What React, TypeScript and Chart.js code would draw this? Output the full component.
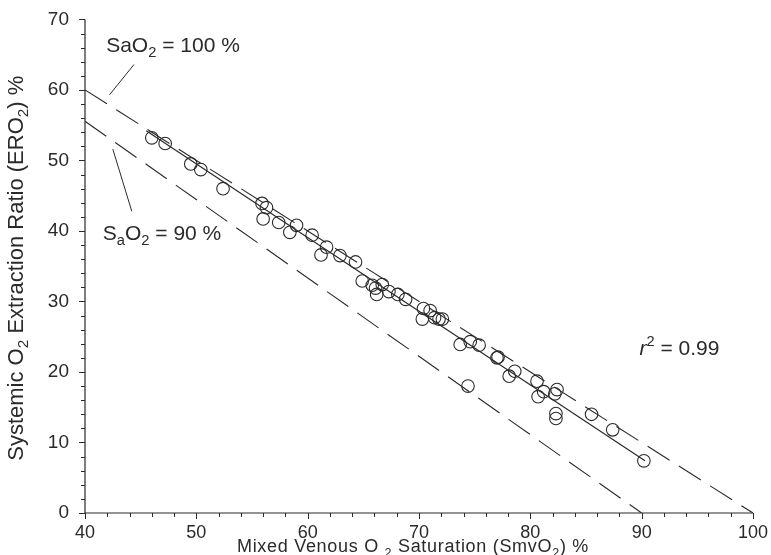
import React, { useEffect, useRef } from 'react';
import { Chart, registerables } from 'chart.js';
Chart.register(...registerables);

const svo2 = [46.0, 47.2, 49.5, 50.4, 52.4, 55.9, 56.3, 56.0, 57.4, 58.4, 59.0, 60.4, 61.2, 61.7, 62.9, 64.3, 64.9, 65.8, 66.2, 66.1, 66.7, 67.3, 68.1, 68.8, 70.3, 70.4, 71.0, 71.4, 71.8, 72.1, 73.7, 74.4, 74.6, 75.4, 77.0, 77.1, 78.1, 78.6, 80.6, 80.7, 81.2, 82.2, 82.4, 82.3, 82.3, 85.5, 87.4, 90.2];
const ero2 = [53.2, 52.4, 49.5, 48.7, 46.0, 43.9, 43.3, 41.7, 41.2, 39.8, 40.8, 39.4, 36.6, 37.7, 36.5, 35.6, 32.9, 32.3, 31.0, 31.9, 32.4, 31.4, 31.0, 30.3, 27.5, 29.0, 28.7, 27.7, 27.5, 27.5, 23.9, 18.0, 24.3, 23.8, 22.0, 22.1, 19.4, 20.1, 18.7, 16.5, 17.2, 16.9, 17.5, 14.1, 13.4, 14.0, 11.8, 7.4];

const fitX = [45.5, 90.3];
const fitY = [54.2, 7.4];
const sat100X = [40, 100];
const sat100Y = [60, 0];
const sat90X = [40, 90];
const sat90Y = [55.56, 0];

const xMin = 40, xMax = 100, xMajor = 10, xMinor = 2;
const yMin = 0, yMax = 70, yMajor = 10, yMinor = 2;

const INK = '#2a2a2a';
const FONT = '"Liberation Sans", Arial, sans-serif';

type Part = { t: string; sub?: boolean; sup?: boolean; italic?: boolean };

function richWidth(ctx: CanvasRenderingContext2D, parts: Part[], size: number) {
  let w = 0;
  for (const p of parts) {
    const s = p.sub || p.sup ? size * 0.7 : size;
    ctx.font = `${p.italic ? 'italic ' : ''}${s}px ${FONT}`;
    w += ctx.measureText(p.t).width;
  }
  return w;
}

function drawRich(ctx: CanvasRenderingContext2D, parts: Part[], x: number, y: number, size: number, align: 'left' | 'center' = 'left', spacing = 0) {
  ctx.save();
  ctx.fillStyle = INK;
  ctx.textBaseline = 'middle';
  ctx.textAlign = 'left';
  (ctx as any).letterSpacing = `${spacing}px`;
  let cx = x;
  if (align === 'center') cx = x - richWidth(ctx, parts, size) / 2;
  for (const p of parts) {
    const s = p.sub || p.sup ? size * 0.7 : size;
    ctx.font = `${p.italic ? 'italic ' : ''}${s}px ${FONT}`;
    const dy = p.sub ? size * 0.32 : p.sup ? -size * 0.35 : 0;
    ctx.fillText(p.t, cx, y + dy);
    cx += ctx.measureText(p.t).width;
  }
  ctx.restore();
}

const decorPlugin = {
  id: 'decor',
  afterDraw(chart: any) {
    const ctx: CanvasRenderingContext2D = chart.ctx;
    const xs = chart.scales.x;
    const ys = chart.scales.y;
    const px = (v: number) => xs.getPixelForValue(v);
    const py = (v: number) => ys.getPixelForValue(v);
    const left = px(xMin), bottom = py(yMin);
    ctx.save();
    ctx.strokeStyle = INK;
    ctx.lineWidth = 1.2;
    ctx.beginPath();
    ctx.moveTo(left, py(yMax));
    ctx.lineTo(left, bottom);
    ctx.lineTo(px(xMax), bottom);
    ctx.stroke();
    ctx.lineWidth = 1;
    ctx.beginPath();
    for (let v = xMin; v <= xMax + 1e-6; v += xMinor) {
      const major = Math.abs(v % xMajor) < 1e-6;
      const x = Math.round(px(v)) + 0.5;
      ctx.moveTo(x, bottom);
      ctx.lineTo(x, bottom + (major ? 6 : 4));
    }
    for (let v = yMin; v <= yMax + 1e-6; v += yMinor) {
      const major = Math.abs(v % yMajor) < 1e-6;
      const y = Math.round(py(v)) + 0.5;
      ctx.moveTo(left, y);
      ctx.lineTo(left - (major ? 6 : 4), y);
    }
    ctx.stroke();

    // leader lines
    ctx.lineWidth = 1;
    ctx.beginPath();
    ctx.moveTo(px(44.4), py(63.6));
    ctx.lineTo(px(42.2), py(59.3));
    ctx.moveTo(px(42.5), py(51.6));
    ctx.lineTo(px(44.2), py(42.8));
    ctx.stroke();
    ctx.restore();

    drawRich(ctx, [{ t: 'SaO' }, { t: '2', sub: true }, { t: ' = 100 %' }], px(41.9), py(66.2), 21);
    drawRich(ctx, [{ t: 'S' }, { t: 'a', sub: true }, { t: 'O' }, { t: '2', sub: true }, { t: ' = 90 %' }], px(41.6), py(39.6), 21);
    drawRich(ctx, [{ t: 'r', italic: true }, { t: '2', sup: true }, { t: ' = 0.99' }], px(89.8), py(23.2), 21);

    // axis titles
    const area = chart.chartArea;
    const xParts: Part[] = [{ t: 'Mixed Venous O ' }, { t: '2', sub: true }, { t: ' Saturation (SmvO' }, { t: '2', sub: true }, { t: ') %' }];
    drawRich(ctx, xParts, (area.left + area.right) / 2 - 6, 547.5, 18, 'center', 0.7);
    ctx.save();
    ctx.translate(17, (area.top + area.bottom) / 2 + 2);
    ctx.rotate(-Math.PI / 2);
    drawRich(ctx, [{ t: 'Systemic O' }, { t: '2', sub: true }, { t: ' Extraction Ratio (ERO' }, { t: '2', sub: true }, { t: ') %' }], 0, 0, 22, 'center');
    ctx.restore();
  },
};

export default function App() {
  const ref = useRef<HTMLCanvasElement>(null);
  useEffect(() => {
    if (!ref.current) return;
    const pts = svo2.map((x, i) => ({ x, y: ero2[i] }));
    const line = (xsArr: number[], ysArr: number[]) => xsArr.map((x, i) => ({ x, y: ysArr[i] }));
    const chart = new Chart(ref.current, {
      type: 'scatter',
      data: {
        datasets: [
          { type: 'line', data: line(sat100X, sat100Y), borderColor: INK, borderWidth: 1.1, borderDash: [26, 11], pointRadius: 0, fill: false } as any,
          { type: 'line', data: line(sat90X, sat90Y), borderColor: INK, borderWidth: 1.1, borderDash: [26, 11], pointRadius: 0, fill: false } as any,
          { type: 'line', data: line(fitX, fitY), borderColor: INK, borderWidth: 1.2, pointRadius: 0, fill: false } as any,
          { data: pts, pointRadius: 6.3, pointStyle: 'circle', borderColor: INK, borderWidth: 1.1, backgroundColor: 'rgba(0,0,0,0)' } as any,
        ],
      },
      options: {
        animation: false,
        responsive: false,
        maintainAspectRatio: false,
        layout: { padding: { left: 0, top: 10, right: 16, bottom: 0 } },
        plugins: { legend: { display: false }, tooltip: { enabled: false } },
        scales: {
          x: {
            type: 'linear', min: xMin, max: xMax,
            grid: { display: false }, border: { display: false },
            ticks: { stepSize: xMajor, color: INK, padding: 3, font: { family: FONT, size: 18, lineHeight: 1 } },
            afterFit: (s: any) => { s.height = 42; },
          },
          y: {
            type: 'linear', min: yMin, max: yMax,
            grid: { display: false }, border: { display: false },
            ticks: { stepSize: yMajor, color: INK, padding: 8, font: { family: FONT, size: 19 } },
            afterFit: (s: any) => { s.width = 85; },
          },
        },
      },
      plugins: [decorPlugin],
    });
    return () => chart.destroy();
  }, []);
  return (
    <div style={{ position: 'fixed', left: 0, top: 0, width: 771, height: 555, background: '#fff' }}>
      <canvas ref={ref} width={771} height={555} style={{ width: 771, height: 555 }} />
    </div>
  );
}
